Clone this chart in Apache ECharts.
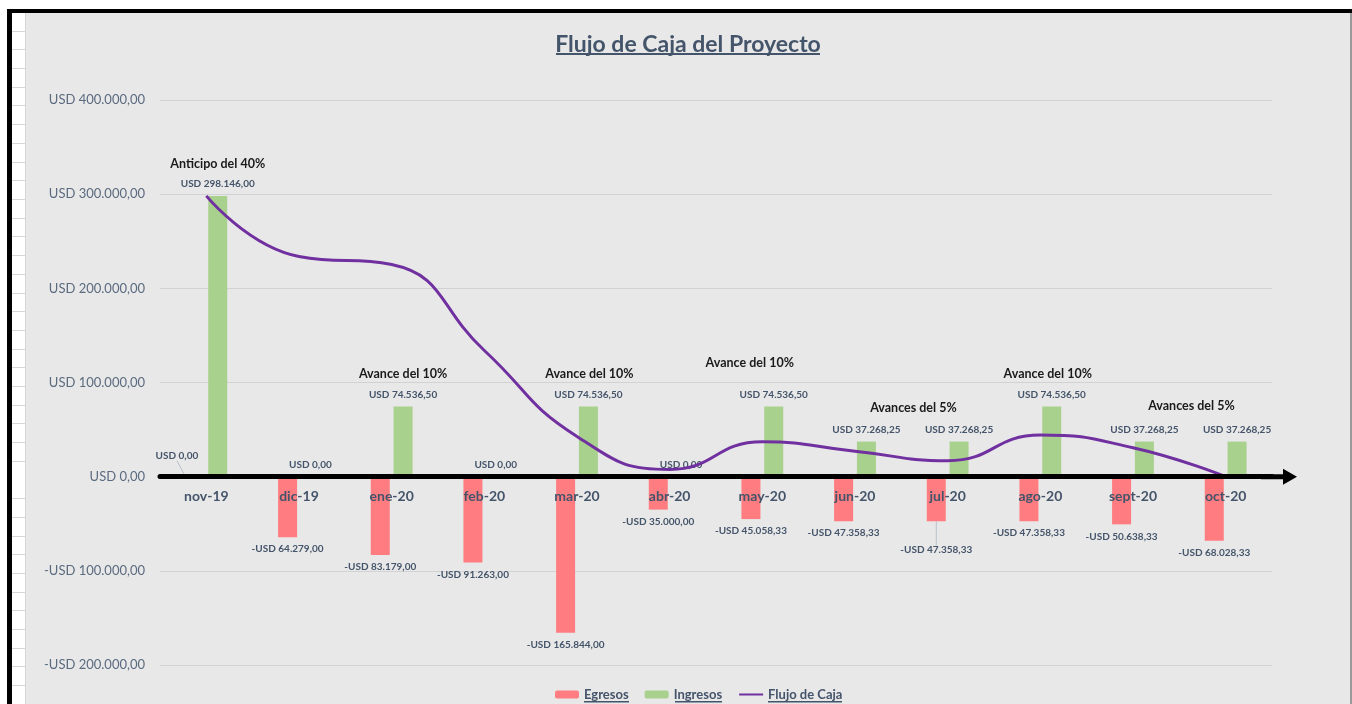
<!DOCTYPE html>
<html>
<head>
<meta charset="utf-8">
<title>Flujo de Caja del Proyecto</title>
<script src="https://cdn.jsdelivr.net/npm/echarts@6/dist/echarts.min.js"></script>
<style>
  html, body { margin: 0; padding: 0; background: #fff; width: 1352px; height: 704px; overflow: hidden; }
  /* marco tipo hoja de calculo */
  .borde-top { position: absolute; left: 7px; top: 9px; width: 1345px; height: 4px; background: #000; }
  .borde-left { position: absolute; left: 7px; top: 9px; width: 5px; height: 695px; background: #000; }
  .filas { position: absolute; left: 12px; top: 13px; width: 13px; height: 691px; background: repeating-linear-gradient(to bottom, #fff 0, #fff 17.7px, #d6d6d6 17.7px, #d6d6d6 18.7px); border-right: 1px solid #d6d6d6; }
  .borde-right { position: absolute; left: 1350px; top: 13px; width: 2px; height: 691px; background: #9a9a9a; }
  #chart { position: absolute; left: 26px; top: 13px; width: 1324px; height: 691px; background: #e8e8e8; }
</style>
</head>
<body>
<div class="borde-top"></div>
<div class="borde-left"></div>
<div class="filas"></div>
<div class="borde-right"></div>
<div id="chart"></div>
<script>
// datos del flujo
var meses = ['nov-19', 'dic-19', 'ene-20', 'feb-20', 'mar-20', 'abr-20', 'may-20', 'jun-20', 'jul-20', 'ago-20', 'sept-20', 'oct-20']
var egresos = [0, -64279, -83179, -91263, -165844, -35000, -45058.33, -47358.33, -47358.33, -47358.33, -50638.33, -68028.33]
var ingresos = [298146, 0, 74536.5, 0, 74536.5, 0, 74536.5, 37268.25, 37268.25, 74536.5, 37268.25, 37268.25]
var flujo = [298146, 233867, 225224.5, 133961.5, 42654, 7654, 37132.17, 27042.09, 16952.01, 44130.18, 30760.1, 0]
var ticksY = [-200000, -100000, 0, 100000, 200000, 300000, 400000]
var notas = ['Anticipo del 40%', 'Avance del 10%', 'Avance del 10%', 'Avance del 10%', 'Avances del 5%', 'Avance del 10%', 'Avances del 5%']
var notasMes = [0, 2, 4, 6, 7, 9, 10]

var azul = '#44546a'
var fuente = 'Lato, "Open Sans", sans-serif'

function usd(v) {
  var s = Math.abs(v).toFixed(2).split('.')
  var ent = s[0].replace(/\B(?=(\d{3})+(?!\d))/g, '.')
  return (v < 0 ? '-' : '') + 'USD ' + ent + ',' + s[1]
}

// desplazamiento de cada nota (px)
var notaOffset = { 0: [0, -32], 2: [0, -33], 4: [1, -33], 6: [-24, -44], 7: [47, -34], 9: [-4, -33], 10: [47, -36] }

// subrayado del titulo y de la leyenda
function subrayado(x, y, w) {
  return { type: 'rect', left: x, top: y, shape: { width: w, height: 1.5 }, style: { fill: azul } }
}

var chart = echarts.init(document.getElementById('chart'))
var option = {
  animation: false,
  textStyle: { fontFamily: fuente },
  title: {
    text: 'Flujo de Caja del Proyecto',
    left: 'center',
    top: 15,
    textStyle: { color: azul, fontSize: 23, fontWeight: 'bold', fontFamily: fuente }
  },
  legend: {
    bottom: -2,
    left: 524,
    itemWidth: 24,
    itemHeight: 8,
    itemGap: 16,
    textStyle: { color: azul, fontSize: 13, fontWeight: 'bold', fontFamily: fuente },
    data: ['Egresos', 'Ingresos', { name: 'Flujo de Caja', itemStyle: { opacity: 0 } }]
  },
  grid: { left: 134, right: 78, top: 87, bottom: 39 },
  xAxis: {
    type: 'category',
    data: meses,
    z: 10,
    axisTick: { show: false },
    axisLine: {
      lineStyle: { color: '#000', width: 5 },
      symbol: ['none', 'path://M8,0 L16,14 L10.5,14 L10.5,36 L5.5,36 L5.5,14 L0,14 Z'],
      symbolSize: [16, 36],
      symbolOffset: [0, 7]
    },
    axisLabel: { color: azul, fontSize: 14, fontWeight: 'bold', margin: -176, fontFamily: fuente }
  },
  yAxis: {
    type: 'value',
    min: ticksY[0],
    max: ticksY[ticksY.length - 1],
    interval: 100000,
    axisLine: { show: false },
    axisTick: { show: false },
    splitLine: { lineStyle: { color: '#d2d2d2', width: 1 } },
    axisLabel: { color: '#5b6a7f', fontSize: 13, margin: 15, fontFamily: fuente, formatter: usd }
  },
  series: [
    {
      name: 'Egresos',
      type: 'bar',
      barWidth: 19,
      barGap: '20%',
      itemStyle: { color: '#ff7c80' },
      label: {
        show: true,
        position: 'bottom',
        distance: 7,
        color: azul,
        fontSize: 10,
        fontWeight: 'bold',
        fontFamily: fuente,
        formatter: function (p) { return usd(p.value) }
      },
      labelLayout: function (p) {
        if (p.dataIndex === 0) return { dx: -18, dy: -33 }
        if (p.dataIndex === 8) return { dy: 17 }
        return {}
      },
      data: egresos.map(function (v, i) {
        if (i === 0 || i === 8) {
          return { value: v, labelLine: { show: true, lineStyle: { color: '#b8c0cc', width: 1 } } }
        }
        return v
      })
    },
    {
      name: 'Ingresos',
      type: 'bar',
      barWidth: 19,
      itemStyle: { color: '#a9d18e' },
      label: {
        show: true,
        position: 'top',
        distance: 7,
        color: azul,
        fontSize: 10,
        fontWeight: 'bold',
        fontFamily: fuente,
        formatter: function (p) { return usd(p.value) }
      },
      markPoint: {
        symbol: 'circle',
        symbolSize: 0,
        label: { color: '#1a1a1a', fontSize: 12.5, fontWeight: 'bold', fontFamily: fuente },
        data: notas.map(function (t, k) {
          var i = notasMes[k]
          return {
            coord: [i, ingresos[i]],
            label: { formatter: t, offset: notaOffset[i] }
          }
        })
      },
      data: ingresos
    },
    {
      name: 'Flujo de Caja',
      type: 'line',
      smooth: 0.5,
      symbol: 'none',
      lineStyle: { color: '#7030a0', width: 3 },
      itemStyle: { color: '#7030a0' },
      data: flujo
    }
  ],
  graphic: [
    { type: 'rect', left: 'center', top: 40, shape: { width: 264, height: 2 }, style: { fill: azul } },
    subrayado(558, 688, 45),
    subrayado(649, 688, 47),
    subrayado(742, 688, 74)
  ]
}
chart.setOption(option)
</script>
</body>
</html>
